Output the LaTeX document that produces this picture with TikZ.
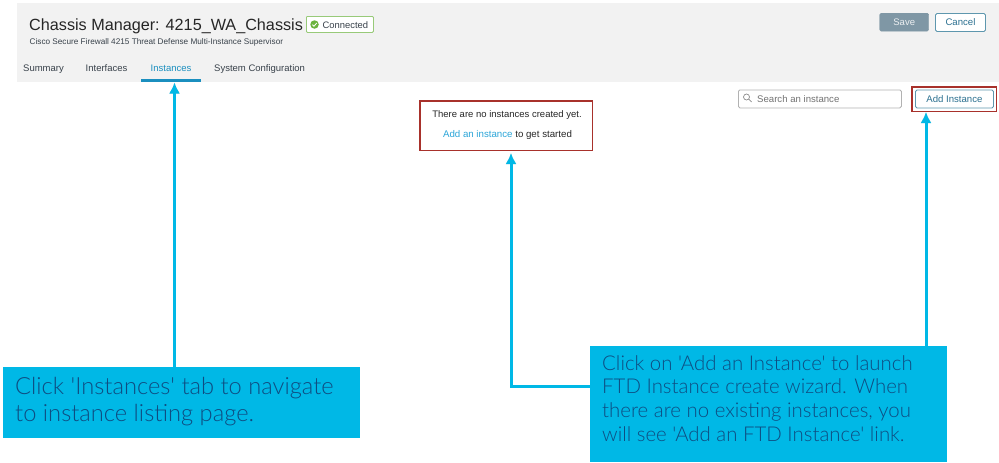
\documentclass[tikz,border=0pt]{standalone}
\usepackage{fontspec}
\setmainfont{Liberation Sans}
\newfontfamily\calloutfont{Lato Light}
\usetikzlibrary{arrows.meta}
\definecolor{callout}{HTML}{00B8E6}
\definecolor{calltext}{HTML}{0F4C81}
\definecolor{headbg}{HTML}{F2F2F2}
\definecolor{redbox}{HTML}{A8312B}
\definecolor{tabblue}{HTML}{1B8FBF}
\definecolor{linkblue}{HTML}{2BA5D8}
\definecolor{uitext}{HTML}{39424B}
\definecolor{btnedge}{HTML}{5E97AE}
\definecolor{btntext}{HTML}{2B7090}
\definecolor{savegray}{HTML}{7F97A5}
\definecolor{okgreen}{HTML}{6CB33F}
\tikzset{
  calloutbox/.style={fill=callout,draw=none,inner sep=0pt,anchor=north west},
  callarrow/.style={draw=callout,line width=3pt,-{Latex[length=11pt,width=11pt]}},
  callshadow/.style={draw=black,opacity=.16,line width=3pt,-{Latex[length=11pt,width=11pt]}},
  redframe/.style={draw=redbox,line width=1.7pt,fill=none,inner sep=0pt,anchor=north west},
  tabtext/.style={font=\fontsize{9.5}{11}\selectfont,text=uitext,inner sep=0pt,anchor=base west},
  uibtn/.style={draw=btnedge,line width=.9pt,rounded corners=1.5pt,inner sep=0pt,anchor=north west,font=\fontsize{9.6}{11}\selectfont,text=btntext,fill=white},
}
\begin{document}
\begin{tikzpicture}[x=1pt,y=-1pt]
\useasboundingbox (0,0) rectangle (999,463);
% header
\node[fill=headbg,inner sep=0pt,minimum width=982pt,minimum height=79pt,anchor=north west] (header) at (17,3) {};
\node[font=\fontsize{16.2}{20}\selectfont,text=black!85,inner sep=0pt,anchor=base west] (title) at (29,30) {Chassis Manager: 4215\_WA\_Chassis};
\node[draw=okgreen!70,line width=.8pt,fill=white,rounded corners=1pt,minimum width=67pt,minimum height=16pt,inner sep=0pt,anchor=north west] (badge) at (306,16) {};
\node[fill=okgreen,circle,minimum size=8.5pt,inner sep=0pt] (dot) at (314.5,24.5) {};
\draw[white,line width=.8pt] (312.5,24.7) -- (314,26.2) -- (316.7,23);
\node[font=\fontsize{9.4}{10}\selectfont,text=uitext,inner sep=0pt,anchor=base west] (conn) at (322.5,28) {Connected};
\node[font=\fontsize{8.2}{9}\selectfont,text=uitext,inner sep=0pt,anchor=base west] (sub) at (29.5,44.5) {Cisco Secure Firewall 4215 Threat Defense Multi-Instance Supervisor};
\node[tabtext] (t1) at (23,71) {Summary};
\node[tabtext] (t2) at (85.5,71) {Interfaces};
\node[tabtext,text=tabblue] (t3) at (150.5,71) {Instances};
\node[tabtext] (t4) at (214,71) {System Configuration};
\node[fill=tabblue,inner sep=0pt,minimum width=60pt,minimum height=3pt,anchor=north west] (ul) at (141,79) {};
% buttons
\node[fill=savegray,draw=savegray,rounded corners=1.5pt,minimum width=49pt,minimum height=18pt,inner sep=0pt,anchor=north west,text=white!85!savegray,font=\fontsize{9.5}{11}\selectfont] (save) at (879.5,13) {Save};
\node[uibtn,minimum width=50pt,minimum height=18pt] (cancel) at (935,13) {Cancel};
\node[draw=black!30,line width=.8pt,rounded corners=1.5pt,minimum width=163pt,minimum height=18pt,inner sep=0pt,anchor=north west,fill=white] (search) at (738,89.5) {};
\draw[black!45,line width=.7pt] (746.5,97) circle (3pt);
\draw[black!45,line width=.7pt] (748.7,99.2) -- (751.5,102);
\node[font=\fontsize{9.6}{11}\selectfont,text=black!55,inner sep=0pt,anchor=base west] (stxt) at (757,102) {Search an instance};
\node[uibtn,minimum width=78pt,minimum height=18pt] (add) at (915,89.5) {Add Instance};
\node[redframe,minimum width=84.5pt,minimum height=24.5pt] (addframe) at (911.1,86) {};
% empty state
\node[redframe,minimum width=172.5pt,minimum height=49.5pt] (emptyframe) at (419.1,100.1) {};
\node[font=\fontsize{9.5}{11}\selectfont,text=black!85,inner sep=0pt,anchor=base] (e1) at (507,117.5) {There are no instances created yet.};
\node[font=\fontsize{9.7}{11}\selectfont,text=black!85,inner sep=0pt,anchor=base] (e2) at (507.5,137.5) {\textcolor{linkblue}{Add an instance} to get started};
% connectors
\coordinate (b1top) at (174.5,367);
\coordinate (ultarget) at (174.5,82.5);
\coordinate (b2top) at (926,346);
\coordinate (addtarget) at (926,112);
\coordinate (b2left) at (590,386);
\coordinate (elbow) at (511,386);
\coordinate (emptytarget) at (511,153);
\begin{scope}[shift={(-1,1)}]
\draw[callshadow] (b1top) -- (ultarget);
\draw[callshadow] (b2top) -- (addtarget);
\draw[callshadow] (b2left) -- (elbow) -- (emptytarget);
\end{scope}
\draw[callarrow] (b1top) -- (ultarget);
\draw[callarrow] (b2top) -- (addtarget);
\draw[callarrow] (b2left) -- (elbow) -- (emptytarget);
% callouts
\node[calloutbox,minimum width=357pt,minimum height=71pt] (box1) at (3,367) {};
\node[calloutbox,minimum width=357pt,minimum height=116pt] (box2) at (590,346) {};
\node[font=\calloutfont\fontsize{23.7}{26.5}\selectfont,text=calltext,inner sep=0pt,align=left,anchor=north west] (txt1) at (15,377.5) {Click 'Instances' tab to navigate\\to instance listing page.};
\node[font=\calloutfont\fontsize{20.4}{23.7}\selectfont,text=calltext,inner sep=0pt,align=left,anchor=north west] (txt2) at (602,355) {Click on 'Add an Instance' to launch\\FTD Instance create wizard. When\\there are no existing instances, you\\will see 'Add an FTD Instance' link.};
\end{tikzpicture}
\end{document}
